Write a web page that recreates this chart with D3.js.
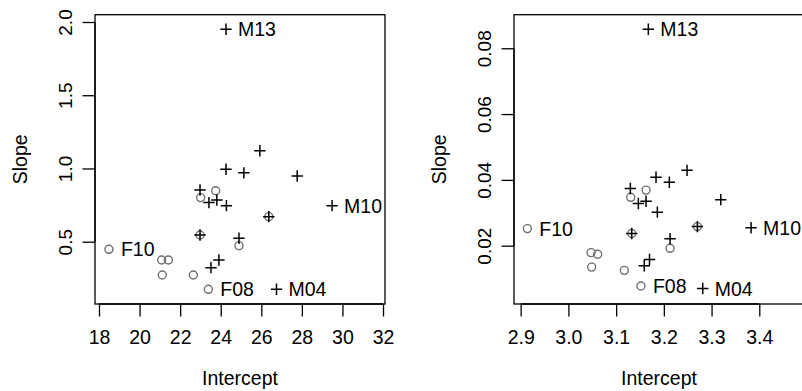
<!DOCTYPE html>
<html>
<head>
<meta charset="utf-8">
<script src="https://cdn.jsdelivr.net/npm/d3@7"></script>
<style>
  html, body { margin: 0; padding: 0; background: #fff; }
  svg { display: block; }
  text { font-family: "Liberation Sans", Arial, Helvetica, sans-serif; fill: #000; }
</style>
</head>
<body>
<svg id="chart" width="802" height="391"></svg>
<script>
// ---- Data ----
// Panel 1: raw scale
const p1MaleIntercept = [24.26, 25.93, 24.26, 25.14, 27.77, 22.98, 23.42, 23.81, 24.28, 22.98, 24.90, 26.37, 29.49, 23.91, 23.52, 26.75];
const p1MaleSlope     = [1.950, 1.121, 0.995, 0.970, 0.949, 0.853, 0.767, 0.785, 0.746, 0.546, 0.524, 0.671, 0.746, 0.375, 0.323, 0.175];
const p1FemaleIntercept = [23.75, 23.01, 22.98, 24.90, 26.37, 18.49, 21.09, 21.42, 21.12, 22.65, 23.39];
const p1FemaleSlope     = [0.848, 0.801, 0.546, 0.473, 0.671, 0.448, 0.375, 0.375, 0.273, 0.273, 0.175];
const p1LabelNames = ["M13", "M10", "M04", "F10", "F08"];
const p1LabelX     = [24.26, 29.49, 26.75, 18.49, 23.39];
const p1LabelY     = [1.950, 0.746, 0.175, 0.448, 0.175];
const p1XTicks = [18, 20, 22, 24, 26, 28, 30, 32];
const p1YTicks = [0.5, 1.0, 1.5, 2.0];

// Panel 2: log scale
const p2MaleIntercept = [3.1675, 3.2486, 3.1836, 3.2115, 3.1298, 3.3193, 3.1466, 3.1627, 3.1864, 3.1327, 3.2703, 3.3828, 3.2130, 3.1700, 3.1590, 3.2815];
const p2MaleSlope     = [0.0858, 0.0429, 0.0408, 0.0393, 0.0374, 0.0340, 0.0328, 0.0335, 0.0302, 0.0237, 0.0258, 0.02545, 0.0221, 0.0158, 0.0139, 0.00697];
const p2FemaleIntercept = [3.1627, 3.1306, 3.1327, 3.2703, 3.2130, 2.9140, 3.0474, 3.0614, 3.0488, 3.1172, 3.1520];
const p2FemaleSlope     = [0.0369, 0.0347, 0.0237, 0.0258, 0.0192, 0.0252, 0.0179, 0.0174, 0.0135, 0.0125, 0.00776];
const p2LabelNames = ["M13", "M10", "M04", "F10", "F08"];
const p2LabelX     = [3.1675, 3.3828, 3.2815, 2.9140, 3.1520];
const p2LabelY     = [0.0858, 0.02545, 0.00697, 0.0252, 0.00776];
const p2XTicks = [2.9, 3.0, 3.1, 3.2, 3.3, 3.4];
const p2YTicks = [0.02, 0.04, 0.06, 0.08];

const xTitle = "Intercept";
const yTitle = "Slope";

// ---- Drawing ----
const svg = d3.select("#chart");
const boxW = 290, boxH = 289.3, boxTop = 14.7;

function panel(opts) {
  const g = svg.append("g").attr("transform", `translate(${opts.left},${boxTop})`);
  const x = d3.scaleLinear().domain(opts.xDomain).range([0, boxW]);
  const y = d3.scaleLinear().domain(opts.yDomain).range([boxH, 0]);

  // x axis (R style: line spans first..last tick)
  const xAxis = d3.axisBottom(x).tickValues(opts.xTicks).tickSize(12.5).tickPadding(3)
    .tickFormat(opts.xFmt);
  const gx = g.append("g").attr("transform", `translate(0,${boxH})`).call(xAxis);
  gx.select(".domain").remove();
  gx.append("line").attr("x1", x(opts.xTicks[0])).attr("x2", x(opts.xTicks[opts.xTicks.length - 1]))
    .attr("stroke", "#000").attr("stroke-width", 1.3);
  gx.selectAll(".tick line").attr("stroke", "#000").attr("stroke-width", 1.3);
  gx.selectAll(".tick text").attr("font-size", 19.5).attr("fill", "#000")
    .attr("dy", null).attr("y", 39.5).attr("font-family", "Liberation Sans, Arial, sans-serif");

  // y axis with rotated labels
  const yAxis = d3.axisLeft(y).tickValues(opts.yTicks).tickSize(12.5).tickFormat(opts.yFmt);
  const gy = g.append("g").call(yAxis);
  gy.select(".domain").remove();
  gy.append("line").attr("y1", y(opts.yTicks[0])).attr("y2", y(opts.yTicks[opts.yTicks.length - 1]))
    .attr("stroke", "#000").attr("stroke-width", 1.3);
  gy.selectAll(".tick line").attr("stroke", "#000").attr("stroke-width", 1.3);
  gy.selectAll(".tick text")
    .attr("x", null).attr("dy", null)
    .attr("transform", "translate(-23,0) rotate(-90)")
    .attr("text-anchor", "middle")
    .attr("font-size", 19).attr("fill", "#000")
    .attr("font-family", "Liberation Sans, Arial, sans-serif");

  // box
  g.append("rect").attr("x", 0).attr("y", 0).attr("width", boxW).attr("height", boxH)
    .attr("fill", "none").attr("stroke", "#000").attr("stroke-width", 1.3);

  // titles
  g.append("text").attr("x", boxW / 2).attr("y", 385.5 - boxTop)
    .attr("text-anchor", "middle").attr("font-size", 19.5).text(xTitle);
  g.append("text").attr("transform", `translate(-68,${boxH / 2}) rotate(-90)`)
    .attr("text-anchor", "middle").attr("font-size", 19.5).text(yTitle);

  // female circles
  const fem = opts.fx.map((v, i) => [v, opts.fy[i]]);
  g.append("g").selectAll("circle").data(fem).join("circle")
    .attr("cx", d => x(d[0])).attr("cy", d => y(d[1])).attr("r", 4)
    .attr("fill", "none").attr("stroke", "#6f6f6f").attr("stroke-width", 1.4);

  // male pluses
  const male = opts.mx.map((v, i) => [v, opts.my[i]]);
  const s = 5.7;
  g.append("g").selectAll("path").data(male).join("path")
    .attr("d", d => {
      const cx = x(d[0]), cy = y(d[1]);
      return `M${cx - s},${cy}H${cx + s}M${cx},${cy - s}V${cy + s}`;
    })
    .attr("stroke", "#000").attr("stroke-width", 1.5).attr("fill", "none");

  // labels
  g.append("g").selectAll("text").data(opts.ln).join("text")
    .attr("x", (d, i) => x(opts.lx[i]) + 12)
    .attr("y", (d, i) => y(opts.ly[i]))
    .attr("dy", "0.36em")
    .attr("font-size", 19.5)
    .text(d => d);
}

panel({
  left: 95,
  xDomain: [17.803, 32.098], yDomain: [0.0747, 2.0498],
  xTicks: p1XTicks, yTicks: p1YTicks,
  xFmt: d3.format("d"), yFmt: d3.format(".1f"),
  mx: p1MaleIntercept, my: p1MaleSlope, fx: p1FemaleIntercept, fy: p1FemaleSlope,
  ln: p1LabelNames, lx: p1LabelX, ly: p1LabelY
});

panel({
  left: 514,
  xDomain: [2.886, 3.4937], yDomain: [0.00228, 0.0902],
  xTicks: p2XTicks, yTicks: p2YTicks,
  xFmt: d3.format(".1f"), yFmt: d3.format(".2f"),
  mx: p2MaleIntercept, my: p2MaleSlope, fx: p2FemaleIntercept, fy: p2FemaleSlope,
  ln: p2LabelNames, lx: p2LabelX, ly: p2LabelY
});
</script>
</body>
</html>
